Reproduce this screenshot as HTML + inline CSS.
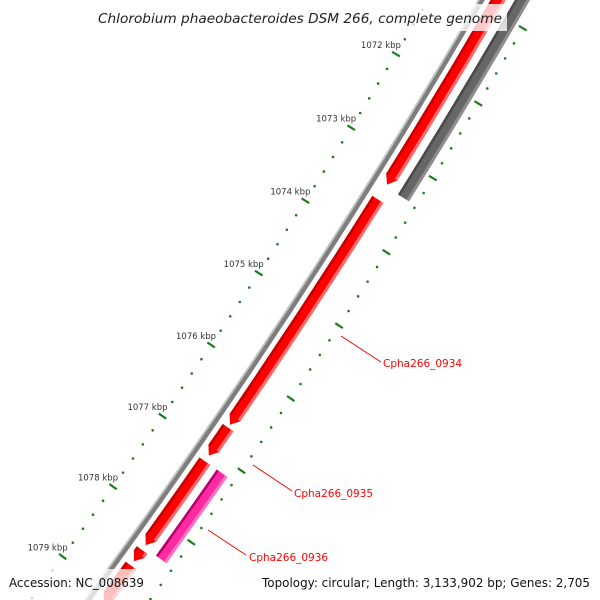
<!DOCTYPE html>
<html><head><meta charset="utf-8"><style>
html,body{margin:0;padding:0;background:#fff;width:600px;height:600px;overflow:hidden}
svg{display:block}
text{font-family:"DejaVu Sans","Liberation Sans",sans-serif}
</style></head><body>
<svg id="map" width="600" height="600" viewBox="0 0 600 600" xmlns="http://www.w3.org/2000/svg">
<g id="rulers"></g>
<g id="backbone"></g>
<g id="features"></g>
<g id="labels">
<line x1="341" y1="336" x2="381" y2="362" stroke="#f00" stroke-width="1"/>
<text x="383" y="367" font-size="10.5" fill="#f00">Cpha266_0934</text>
<line x1="253" y1="465" x2="292" y2="491" stroke="#f00" stroke-width="1"/>
<text x="294" y="497" font-size="10.5" fill="#f00">Cpha266_0935</text>
<line x1="208" y1="530" x2="246" y2="555" stroke="#f00" stroke-width="1"/>
<text x="249" y="561" font-size="10.5" fill="#f00">Cpha266_0936</text>
</g>
<rect x="94" y="4" width="413" height="27" fill="#fff" fill-opacity="0.78"/>
<text x="300" y="23" text-anchor="middle" font-size="13" font-style="italic" fill="#222" textLength="404" lengthAdjust="spacingAndGlyphs">Chlorobium phaeobacteroides DSM 266, complete genome</text>
<rect x="5" y="569" width="143" height="31" fill="#fff" fill-opacity="0.75"/>
<text x="9" y="587" font-size="12.5" fill="#111" textLength="135" lengthAdjust="spacingAndGlyphs">Accession: NC_008639</text>
<rect x="258" y="569" width="337" height="31" fill="#fff" fill-opacity="0.75"/>
<text x="590" y="587" text-anchor="end" font-size="12.5" fill="#111" textLength="328" lengthAdjust="spacingAndGlyphs">Topology: circular; Length: 3,133,902 bp; Genes: 2,705</text>
</svg>
<script>
const majorTicksKbp = [1071, 1072, 1073, 1074, 1075, 1076, 1077, 1078, 1079, 1080];
const tickLabels = ["1071 kbp","1072 kbp","1073 kbp","1074 kbp","1075 kbp","1076 kbp","1077 kbp","1078 kbp","1079 kbp","1080 kbp"];
const fwdStarts = [1070.5, 1073.54, 1076.68, 1077.15, 1078.40, 1078.62, 1079.22];
const fwdEnds   = [1073.34, 1076.64, 1077.07, 1078.33, 1078.56, 1079.15, 1079.8];
const revStarts = [1070.5, 1077.15];
const revEnds   = [1073.37, 1078.36];
const revColors = ["gray", "pink"];

const NS = "http://www.w3.org/2000/svg";
const CX = -5310, CY = -3369, RB = 6700, A0 = 30.96, DPK = 0.742;
function pt(k, r) { const a = (A0 + DPK * (k - 1072)) * Math.PI / 180; return [CX + r * Math.cos(a), CY + r * Math.sin(a)]; }
function f(p) { return p[0].toFixed(2) + " " + p[1].toFixed(2); }
function band(k1, k2, r1, r2) {
  return "M" + f(pt(k1, r1)) + " A" + r1 + " " + r1 + " 0 0 1 " + f(pt(k2, r1)) + " L" + f(pt(k2, r2)) + " A" + r2 + " " + r2 + " 0 0 0 " + f(pt(k1, r2)) + " Z";
}
function arrow(k1, k2, r1, r2) {
  const ka = Math.max(k1, k2 - 0.1), rc = (r1 + r2) / 2;
  return "M" + f(pt(k1, r1)) + " A" + r1 + " " + r1 + " 0 0 1 " + f(pt(ka, r1)) + " L" + f(pt(k2, rc)) + " L" + f(pt(ka, r2)) + " A" + r2 + " " + r2 + " 0 0 0 " + f(pt(k1, r2)) + " Z";
}
function mk(tag, attrs, parent) { const e = document.createElementNS(NS, tag); for (const k in attrs) e.setAttribute(k, attrs[k]); parent.appendChild(e); return e; }

const rulers = document.getElementById("rulers");
const RIN = RB - 46, ROUT = RB + 50;
for (let i = 0; i < majorTicksKbp.length; i++) {
  const k = majorTicksKbp[i];
  [RIN, ROUT].forEach(function (r, j) {
    const p1 = pt(k, r - 4.5), p2 = pt(k, r + 4.5);
    const ln = mk("line", { x1: p1[0], y1: p1[1], x2: p2[0], y2: p2[1], stroke: "#1a7f1a", "stroke-width": 2.2 }, rulers);
    
    
  });
  const tp = pt(k, RIN);
  const t = mk("text", { x: tp[0] + 5, y: tp[1] - 6, "text-anchor": "end", "font-size": "8.5", fill: "#333" }, rulers);
  t.textContent = tickLabels[i];
  
  
  for (let m = 1; m < 5; m++) {
    [RIN, ROUT].forEach(function (r) {
      const p = pt(k + m * 0.2, r);
      const c = mk("circle", { cx: p[0], cy: p[1], r: 1.3, fill: "#1a7f1a" }, rulers);
      
      
    });
  }
}

const bb = document.getElementById("backbone");
const b1 = mk("path", { d: band(1069, 1081, RB - 3, RB + 3), fill: "#7e7e7e" }, bb);


const b2 = mk("path", { d: band(1069, 1081, RB - 3, RB - 1.3), fill: "#c4c4c4" }, bb);



const feats = document.getElementById("features");
const F1 = RB + 8, F2 = RB + 21, S1 = RB + 29, S2 = RB + 42;
for (let i = 0; i < fwdStarts.length; i++) {
  const k1 = fwdStarts[i], k2 = fwdEnds[i];
  const g = mk("g", {}, feats);
  
  
  mk("path", { d: arrow(k1, k2, F1, F2), fill: "#ff0000" }, g);
  const ka = Math.max(k1, k2 - 0.1);
  mk("path", { d: band(k1, ka, F1, F1 + 2.5), fill: "#c80000" }, g);
  mk("path", { d: band(k1, ka, F2 - 3, F2), fill: "#ff6a6a" }, g);
}
for (let i = 0; i < revStarts.length; i++) {
  const k1 = revStarts[i], k2 = revEnds[i];
  const pink = revColors[i] === "pink";
  const g = mk("g", {}, feats);
  
  
  mk("path", { d: band(k1, k2, S1, S2), fill: pink ? "#ff2aa0" : "#666666" }, g);
  mk("path", { d: band(k1, k2, S1, S1 + 2.5), fill: pink ? "#b8006e" : "#4a4a4a" }, g);
  mk("path", { d: band(k1, k2, S2 - 3, S2), fill: pink ? "#ff73c4" : "#8e8e8e" }, g);
}
</script>
</body></html>
